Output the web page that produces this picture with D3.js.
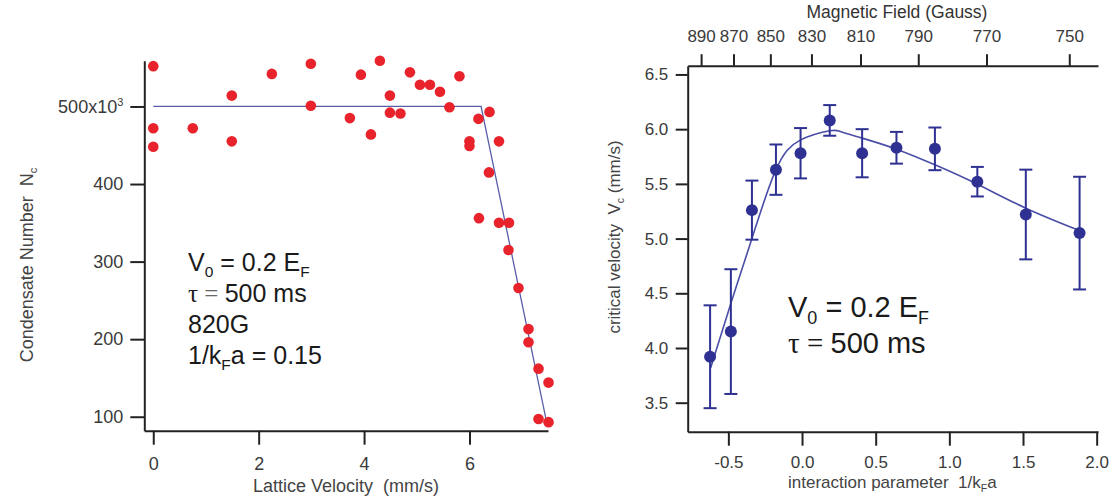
<!DOCTYPE html>
<html>
<head>
<meta charset="utf-8">
<script src="https://cdn.jsdelivr.net/npm/d3@7"></script>
<style>
  html, body { margin: 0; padding: 0; background: #fff; }
  svg { display: block; font-family: "Liberation Sans", Arial, sans-serif; }
  text { white-space: pre; }
</style>
</head>
<body>
<svg id="chart" width="1114" height="503"></svg>
<script>
// ---- Left panel: condensate number vs lattice velocity ----
const latticeVelocity = [0, 0, 0, 0.75, 1.49, 1.49, 2.25, 2.99, 2.99, 3.73, 3.94, 4.13, 4.30,
  4.49, 4.49, 4.69, 4.87, 5.06, 5.25, 5.44, 5.62, 5.81, 6.0, 6.0, 6.17, 6.38, 6.56, 6.37,
  6.18, 6.56, 6.75, 6.74, 6.93, 7.12, 7.12, 7.31, 7.50, 7.31, 7.50];
const condensateN = [552, 472, 448, 472, 514, 455, 542, 555, 501, 485, 541, 464, 559,
  514, 492, 491, 544, 528, 528, 519, 499, 539, 455, 449, 484, 493, 455, 415,
  356, 350, 350, 315, 266, 213, 196, 162, 144, 97, 93];
// piecewise-linear fit: plateau then linear drop
const fitVelocity = [0, 6.22, 7.47];
const fitN = [500, 500, 91];
const latticeTicks = [0, 2, 4, 6];
const condensateTicks = [100, 200, 300, 400, 500];

// ---- Right panel: critical velocity vs interaction parameter ----
const interaction = [-0.624, -0.483, -0.34, -0.177, -0.01, 0.188, 0.408, 0.641, 0.902, 1.19, 1.519, 1.884];
const criticalV = [3.92, 4.15, 5.26, 5.63, 5.78, 6.08, 5.78, 5.83, 5.82, 5.52, 5.22, 5.05];
const criticalErr = [0.47, 0.57, 0.27, 0.23, 0.23, 0.14, 0.22, 0.145, 0.195, 0.135, 0.41, 0.515];
// smooth guide curve through the data
const curveX = [-0.62, -0.48, -0.34, -0.177, -0.012, 0.188, 0.26, 0.408, 0.641, 0.902, 1.19, 1.519, 1.884];
const curveY = [3.82, 4.42, 5.0, 5.63, 5.90, 5.985, 5.978, 5.918, 5.817, 5.674, 5.497, 5.278, 5.073];
const interactionTicks = [-0.5, 0, 0.5, 1, 1.5, 2];
const velocityTicks = [3.5, 4.0, 4.5, 5.0, 5.5, 6.0, 6.5];
// magnetic field axis (top): field values and their positions in 1/kFa
const fieldTicks = [890, 870, 850, 830, 810, 790, 770, 750];
const fieldTickPos = [-0.685, -0.465, -0.215, 0.064, 0.397, 0.789, 1.252, 1.814];

const svg = d3.select("#chart");
const AXIS = "#222";
const TICKTXT = "#3a3a3a";

function styleAxis(g, fontSize) {
  g.select(".domain").attr("stroke", AXIS).attr("stroke-width", 2);
  g.selectAll(".tick line").attr("stroke", AXIS).attr("stroke-width", 2);
  g.selectAll(".tick text").attr("fill", TICKTXT)
    .style("font-size", fontSize + "px")
    .style("font-family", '"Liberation Sans", Arial, sans-serif');
}

// text with sub/superscript runs
function rich(parent, x, y, size, parts, fill) {
  const t = parent.append("text").attr("x", x).attr("y", y)
    .style("font-size", size + "px").attr("fill", fill || "#1a1a1a");
  let shift = 0;
  parts.forEach(p => {
    const target = p.sub ? size * 0.24 : p.sup ? -size * 0.42 : 0;
    const ts = t.append("tspan").text(p.t).attr("dy", target - shift);
    shift = target;
    if (p.sub || p.sup) ts.style("font-size", (size * 0.62) + "px");
    if (p.font) ts.style("font-family", p.font);
    if (p.fill) ts.attr("fill", p.fill);
  });
  return t;
}

// ================= Left panel =================
const xL = d3.scaleLinear().domain([-0.17, 7.49]).range([144.3, 548]);
const yL = d3.scaleLinear().domain([82, 559]).range([430.7, 60.7]);

const left = svg.append("g");

left.append("g").attr("transform", "translate(0,430.7)")
  .call(d3.axisBottom(xL).tickValues(latticeTicks).tickSize(14).tickSizeOuter(0)
    .tickPadding(13).tickFormat(d3.format("d")))
  .call(g => styleAxis(g, 18));

const yAxisL = left.append("g").attr("transform", "translate(144.3,0)")
  .call(d3.axisLeft(yL).tickValues(condensateTicks).tickSize(14).tickSizeOuter(0)
    .tickPadding(7).tickFormat(d => d === 500 ? "500x10" : String(d)))
  .call(g => styleAxis(g, 18));
yAxisL.selectAll(".tick text").filter(d => d === 500)
  .append("tspan").attr("dy", -7).style("font-size", "11px").text("3");

// fit line
left.append("path")
  .attr("d", d3.line().x((d, i) => xL(fitVelocity[i])).y((d, i) => yL(fitN[i]))(fitVelocity))
  .attr("fill", "none").attr("stroke", "#5a5ea9").attr("stroke-width", 1.3);

// data points
left.append("g").selectAll("circle").data(latticeVelocity).join("circle")
  .attr("cx", d => xL(d)).attr("cy", (d, i) => yL(condensateN[i]))
  .attr("r", 5.3).attr("fill", "#e8232b");

// axis titles
rich(left, 253, 492, 18, [{ t: "Lattice Velocity  (mm/s)" }], "#444");
rich(left.append("g").attr("transform", "translate(33,265) rotate(-90)"), 0, 0, 18,
  [{ t: "Condensate Number  N" }, { t: "c", sub: true }], "#444")
  .attr("text-anchor", "middle");

// annotations
const serif = '"Liberation Serif", "Times New Roman", serif';
rich(left, 188, 271, 25, [{ t: "V" }, { t: "0", sub: true }, { t: " = 0.2 E" }, { t: "F", sub: true }]);
rich(left, 188, 302, 25, [{ t: "τ", font: serif }, { t: " = ", font: serif, fill: "#666" }, { t: "500 ms" }]);
rich(left, 188, 333, 25, [{ t: "820G" }]);
rich(left, 188, 364, 25, [{ t: "1/k" }, { t: "F", sub: true }, { t: "a = 0.15" }]);

// ================= Right panel =================
const xR = d3.scaleLinear().domain([-0.776, 2.009]).range([687.7, 1098]);
const yR = d3.scaleLinear().domain([3.235, 6.58]).range([431.7, 65.7]);

const right = svg.append("g");

right.append("g").attr("transform", "translate(0,431.7)")
  .call(d3.axisBottom(xR).tickValues(interactionTicks).tickSize(14).tickSizeOuter(0)
    .tickPadding(10.5).tickFormat(d => d.toFixed(1)))
  .call(g => styleAxis(g, 17));

right.append("g").attr("transform", "translate(687.7,0)")
  .call(d3.axisLeft(yR).tickValues(velocityTicks).tickSize(12).tickSizeOuter(0)
    .tickPadding(7.4).tickFormat(d => d.toFixed(1)))
  .call(g => styleAxis(g, 17));

right.append("g").attr("transform", "translate(0,65.7)")
  .call(d3.axisTop(xR).tickValues(fieldTickPos).tickSize(11.5).tickSizeOuter(0)
    .tickPadding(12.5).tickFormat((d, i) => String(fieldTicks[i])))
  .call(g => styleAxis(g, 17));

// guide curve
right.append("path")
  .attr("d", d3.line().curve(d3.curveNatural)
    .x((d, i) => xR(curveX[i])).y((d, i) => yR(curveY[i]))(curveX))
  .attr("fill", "none").attr("stroke", "#4a4ea6").attr("stroke-width", 1.6);

// error bars
const BLUE = "#2e3192";
const eb = right.append("g").attr("stroke", BLUE).attr("stroke-width", 2);
interaction.forEach((x, i) => {
  const cx = xR(x), top = yR(criticalV[i] + criticalErr[i]), bot = yR(criticalV[i] - criticalErr[i]);
  eb.append("line").attr("x1", cx).attr("x2", cx).attr("y1", top).attr("y2", bot);
  eb.append("line").attr("x1", cx - 6.5).attr("x2", cx + 6.5).attr("y1", top).attr("y2", top);
  eb.append("line").attr("x1", cx - 6.5).attr("x2", cx + 6.5).attr("y1", bot).attr("y2", bot);
});

right.append("g").selectAll("circle").data(interaction).join("circle")
  .attr("cx", d => xR(d)).attr("cy", (d, i) => yR(criticalV[i]))
  .attr("r", 6).attr("fill", BLUE);

// axis titles
rich(right, 897, 18, 17.5, [{ t: "Magnetic Field (Gauss)" }], "#333").attr("text-anchor", "middle");
rich(right, 788, 488, 17, [{ t: "interaction parameter  1/k" }, { t: "F", sub: true }, { t: "a" }], "#444");
rich(right.append("g").attr("transform", "translate(620,237) rotate(-90)"), 0, 0, 17,
  [{ t: "critical velocity  V" }, { t: "c", sub: true }, { t: " (mm/s)" }], "#444")
  .attr("text-anchor", "middle");

// annotations
rich(right, 788, 317, 29, [{ t: "V" }, { t: "0", sub: true }, { t: " = 0.2 E" }, { t: "F", sub: true }]);
rich(right, 788, 353, 29, [{ t: "τ", font: serif }, { t: " = ", font: serif }, { t: "500 ms" }]);
</script>
</body>
</html>
